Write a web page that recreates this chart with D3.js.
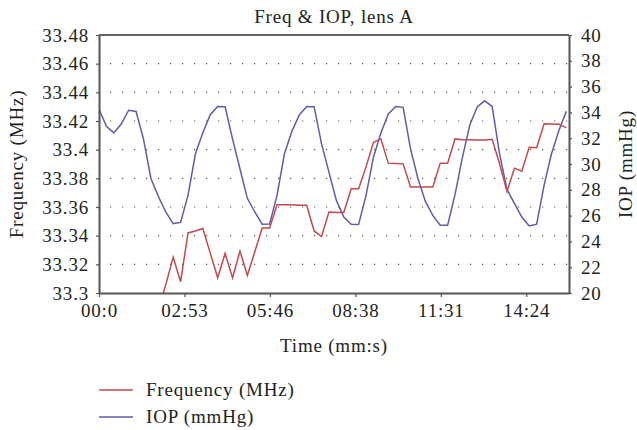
<!DOCTYPE html>
<html>
<head>
<meta charset="utf-8">
<script src="https://cdn.jsdelivr.net/npm/d3@7"></script>
<style>
  body { margin: 0; background: #fff; }
  svg text { font-family: "Liberation Serif", "DejaVu Serif", serif; fill: #231f20; letter-spacing: 0.8px; }
</style>
</head>
<body>
<svg id="chart"></svg>
<script>
// samples every 15 s
const sampleStep = 15;

// Frequency (MHz); null = not recorded / off the chart
const freq = [
  null, null, null, null, null, null, null, null, 33.289, 33.3057,
  33.325, 33.3079, 33.3419, 33.3432, 33.345, 33.3278, 33.3106, 33.3276, 33.3106, 33.3292,
  33.3123, 33.3288, 33.3454, 33.3454, 33.3616, 33.3616, 33.3615, 33.3613, 33.3612, 33.3433,
  33.3394, 33.3565, 33.3561, 33.3561, 33.3728, 33.3728, 33.388, 33.4052, 33.4075, 33.3906,
  33.3904, 33.3901, 33.3739, 33.3739, 33.3739, 33.3739, 33.3906, 33.3906, 33.4075, 33.407,
  33.4069, 33.4068, 33.4068, 33.4072, 33.3902, 33.3709, 33.3871, 33.385, 33.4017, 33.4013,
  33.4181, 33.4179, 33.4177, 33.4154
];

// IOP (mmHg)
const iop = [
  34.26, 32.93, 32.41, 33.10, 34.17, 34.07, 31.93, 28.88, 27.49, 26.28,
  25.38, 25.47, 27.57, 30.79, 32.43, 33.82, 34.46, 34.44, 31.95, 29.63,
  27.34, 26.28, 25.33, 25.35, 27.57, 30.79, 32.53, 33.80, 34.46, 34.44,
  31.56, 29.37, 27.18, 25.89, 25.33, 25.31, 27.57, 30.53, 32.41, 33.88,
  34.46, 34.39, 31.17, 28.86, 27.10, 26.02, 25.25, 25.25, 27.64, 30.53,
  33.05, 34.44, 34.90, 34.46, 30.79, 28.03, 26.95, 25.89, 25.20, 25.33,
  28.34, 30.79, 32.59, 34.08
];

const timeTicks = [0, 172.8, 345.6, 518.4, 691.2, 864];
const timeLabels = ['00:0', '02:53', '05:46', '08:38', '11:31', '14:24'];
const freqTicks = [33.3, 33.32, 33.34, 33.36, 33.38, 33.4, 33.42, 33.44, 33.46, 33.48];
const iopTicks = [20, 22, 24, 26, 28, 30, 32, 34, 36, 38, 40];

const W = 637, H = 430;
const margin = { top: 35, right: 68, bottom: 137, left: 99 };
const width = W - margin.left - margin.right;
const height = H - margin.top - margin.bottom;

const redColor = '#c24a4c';
const blueColor = '#5e5ea8';
const fontSize = '19px';

const svg = d3.select('#chart').attr('width', W).attr('height', H);

const xScale = d3.scaleLinear().domain([0, 950.4]).range([0, width]);
const yFreq = d3.scaleLinear().domain([33.3, 33.48]).range([height, 0]);
const yIop = d3.scaleLinear().domain([20, 40]).range([height, 0]);

svg.append('defs').append('clipPath').attr('id', 'plotClip')
  .append('rect').attr('width', width).attr('height', height);

const g = svg.append('g').attr('transform', `translate(${margin.left},${margin.top})`);

// dotted gridlines
g.append('g')
  .selectAll('line')
  .data(freqTicks.slice(1, -1))
  .enter()
  .append('line')
  .attr('x1', 0)
  .attr('x2', width)
  .attr('y1', (d) => yFreq(d))
  .attr('y2', (d) => yFreq(d))
  .attr('stroke', '#555')
  .attr('stroke-width', 1.2)
  .attr('stroke-dasharray', '1.2,10.8')
  .attr('stroke-dashoffset', -11);

// top border
g.append('line')
  .attr('x1', 0).attr('x2', width)
  .attr('y1', 0).attr('y2', 0)
  .attr('stroke', '#333').attr('stroke-width', 1.5);

// lines
const timeOf = (i) => i * sampleStep;

const freqLine = d3.line()
  .defined((d) => d != null)
  .x((d, i) => xScale(timeOf(i)))
  .y((d) => yFreq(d));

const iopLine = d3.line()
  .x((d, i) => xScale(timeOf(i)))
  .y((d) => yIop(d));

const plot = g.append('g').attr('clip-path', 'url(#plotClip)');

plot.append('path')
  .datum(iop)
  .attr('fill', 'none')
  .attr('stroke', blueColor)
  .attr('stroke-width', 1.5)
  .attr('d', iopLine);

plot.append('path')
  .datum(freq)
  .attr('fill', 'none')
  .attr('stroke', redColor)
  .attr('stroke-width', 1.5)
  .attr('d', freqLine);

// axes
const styleAxis = (sel) => {
  sel.select('.domain').attr('stroke', '#555').attr('stroke-width', 2);
  sel.selectAll('.tick line').attr('stroke', '#555').attr('stroke-width', 1.2);
  sel.selectAll('.tick text').style('font-size', fontSize).attr('fill', '#231f20');
};

const xAxisGrp = g.append('g')
  .attr('transform', `translate(0,${height})`)
  .call(d3.axisBottom(xScale)
    .tickValues(timeTicks)
    .tickFormat((d, i) => timeLabels[i])
    .tickSizeInner(4).tickSizeOuter(0).tickPadding(7));
styleAxis(xAxisGrp);

const yLeftGrp = g.append('g')
  .call(d3.axisLeft(yFreq)
    .tickValues(freqTicks)
    .tickFormat((d) => d3.format('')(+d.toFixed(2)))
    .tickSizeInner(3).tickSizeOuter(0).tickPadding(7));
styleAxis(yLeftGrp);

const yRightGrp = g.append('g')
  .attr('transform', `translate(${width},0)`)
  .call(d3.axisRight(yIop)
    .tickValues(iopTicks)
    .tickSizeInner(3).tickSizeOuter(0).tickPadding(9));
styleAxis(yRightGrp);

// titles
svg.append('text')
  .attr('x', margin.left + width / 2)
  .attr('y', 23)
  .attr('text-anchor', 'middle')
  .style('font-size', fontSize)
  .text('Freq & IOP, lens A');

svg.append('text')
  .attr('x', margin.left + width / 2)
  .attr('y', 352)
  .attr('text-anchor', 'middle')
  .style('font-size', fontSize)
  .text('Time (mm:s)');

svg.append('text')
  .attr('transform', `translate(23,${margin.top + height / 2}) rotate(-90)`)
  .attr('text-anchor', 'middle')
  .style('font-size', fontSize)
  .text('Frequency (MHz)');

svg.append('text')
  .attr('transform', `translate(632,${margin.top + height / 2}) rotate(-90)`)
  .attr('text-anchor', 'middle')
  .style('font-size', fontSize)
  .text('IOP (mmHg)');

// legend
const legendItems = [
  { name: 'Frequency (MHz)', color: redColor, y: 390 },
  { name: 'IOP (mmHg)', color: blueColor, y: 417 },
];

const legend = svg.append('g')
  .selectAll('g')
  .data(legendItems)
  .enter()
  .append('g');

legend.append('line')
  .attr('x1', 99).attr('x2', 133)
  .attr('y1', (d) => d.y).attr('y2', (d) => d.y)
  .attr('stroke', (d) => d.color)
  .attr('stroke-width', 1.5);

legend.append('text')
  .attr('x', 146)
  .attr('y', (d) => d.y + 6)
  .style('font-size', fontSize)
  .text((d) => d.name);
</script>
</body>
</html>
